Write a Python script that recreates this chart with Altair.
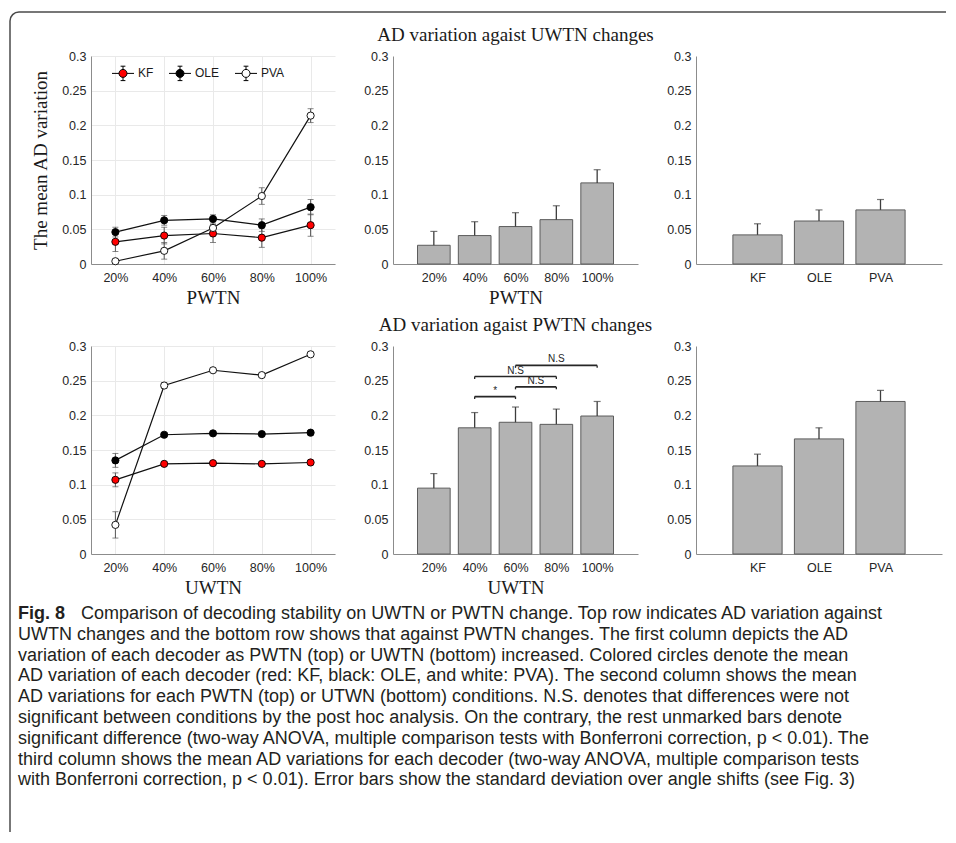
import json
import altair as alt
import pandas as pd

# ---------------- data ----------------
LEVELS = ["20%", "40%", "60%", "80%", "100%"]
DECODERS = ["KF", "OLE", "PVA"]
DEC_FILL = ["#ff0000", "#000000", "#ffffff"]
Y_TICKS = [0, 0.05, 0.1, 0.15, 0.2, 0.25, 0.3]

# Row 1 : AD variation against UWTN changes (x = PWTN)
r1_kf_mean = [0.032, 0.041, 0.044, 0.038, 0.056]
r1_kf_sd = [0.014, 0.012, 0.013, 0.014, 0.016]
r1_ole_mean = [0.046, 0.063, 0.065, 0.056, 0.082]
r1_ole_sd = [0.007, 0.007, 0.006, 0.009, 0.011]
r1_pva_mean = [0.004, 0.019, 0.052, 0.098, 0.214]
r1_pva_sd = [0.002, 0.012, 0.011, 0.012, 0.010]
r1_level_mean = [0.027, 0.041, 0.054, 0.064, 0.117]
r1_level_sd = [0.020, 0.020, 0.020, 0.020, 0.019]
r1_dec_mean = [0.042, 0.062, 0.078]
r1_dec_sd = [0.016, 0.016, 0.015]

# Row 2 : AD variation against PWTN changes (x = UWTN)
r2_kf_mean = [0.107, 0.130, 0.131, 0.130, 0.132]
r2_kf_sd = [0.010, 0.003, 0.003, 0.003, 0.003]
r2_ole_mean = [0.135, 0.172, 0.174, 0.173, 0.175]
r2_ole_sd = [0.010, 0.003, 0.003, 0.003, 0.003]
r2_pva_mean = [0.042, 0.243, 0.265, 0.258, 0.288]
r2_pva_sd = [0.019, 0.004, 0.003, 0.003, 0.003]
r2_level_mean = [0.095, 0.182, 0.190, 0.187, 0.199]
r2_level_sd = [0.021, 0.022, 0.022, 0.022, 0.021]
r2_dec_mean = [0.127, 0.166, 0.220]
r2_dec_sd = [0.017, 0.016, 0.016]

# significance brackets (row 2, middle)
sig_from = ["40%", "60%", "40%", "60%"]
sig_to = ["60%", "80%", "80%", "100%"]
sig_height = [0.227, 0.241, 0.256, 0.272]
sig_label = ["*", "N.S", "N.S", "N.S"]

TITLE_1 = "AD variation agaist UWTN changes"
TITLE_2 = "AD variation agaist PWTN changes"
Y_TITLE = "The mean AD variation"

CAP_LABEL = "Fig. 8"
CAP_LINES = [
    "Comparison of decoding stability on UWTN or PWTN change. Top row indicates AD variation against",
    "UWTN changes and the bottom row shows that against PWTN changes. The first column depicts the AD",
    "variation of each decoder as PWTN (top) or UWTN (bottom) increased. Colored circles denote the mean",
    "AD variation of each decoder (red: KF, black: OLE, and white: PVA). The second column shows the mean",
    "AD variations for each PWTN (top) or UTWN (bottom) conditions. N.S. denotes that differences were not",
    "significant between conditions by the post hoc analysis. On the contrary, the rest unmarked bars denote",
    "significant difference (two-way ANOVA, multiple comparison tests with Bonferroni correction, p < 0.01). The",
    "third column shows the mean AD variations for each decoder (two-way ANOVA, multiple comparison tests",
    "with Bonferroni correction, p < 0.01). Error bars show the standard deviation over angle shifts (see Fig. 3)",
]

# ---------------- style ----------------
SERIF = "Liberation Serif"
SANS = "Liberation Sans"
CAP_FONT = "Liberation Sans"
YS = alt.Scale(domain=[0, 0.3], nice=False, zero=True)
LEG_PATH = ("M-2.75,0H-1M1,0H2.75M-1,0A1,1,0,1,1,1,0A1,1,0,1,1,-1,0"
            "M0,-1V-1.8M-0.6,-1.8H0.6M0,1V1.8M-0.6,1.8H0.6")
one_df = pd.DataFrame({"k": [0]})


def yaxis(title=None, grid=False):
    return alt.Axis(values=Y_TICKS, format="~g", title=title, grid=grid)


def line_df(means, sds):
    rows = []
    for d, ms, ss in zip(DECODERS, means, sds):
        for lv, m, s in zip(LEVELS, ms, ss):
            rows.append({"level": lv, "decoder": d, "mean": m, "sd": s})
    return pd.DataFrame(rows)


def line_panel(df, xtitle, ytitle=None, legend=False):
    base = alt.Chart(df).transform_calculate(
        lo="datum.mean - datum.sd", hi="datum.mean + datum.sd")
    xax = alt.Axis(title=xtitle, grid=True)
    X = alt.X("level:N", sort=LEVELS, scale=alt.Scale(type="point", padding=0.5), axis=xax)
    yax = yaxis(ytitle, grid=True)
    lines = base.mark_line(color="#111111", strokeWidth=1.2).encode(
        x=X, y=alt.Y("mean:Q", scale=YS, axis=yax), detail="decoder:N")
    err = base.mark_rule(color="#555555", strokeWidth=1).encode(
        x=X, y=alt.Y("lo:Q", scale=YS, axis=yax), y2="hi:Q")
    cap_hi = base.mark_tick(color="#555555", size=6, thickness=1).encode(
        x=X, y=alt.Y("hi:Q", scale=YS, axis=yax))
    cap_lo = base.mark_tick(color="#555555", size=6, thickness=1).encode(
        x=X, y=alt.Y("lo:Q", scale=YS, axis=yax))
    leg = None
    if legend:
        leg = alt.Legend(title=None, orient="none", legendX=26, legendY=11,
                         direction="horizontal", symbolType=LEG_PATH, symbolSize=64,
                         symbolStrokeColor="black", symbolStrokeWidth=1,
                         symbolOpacity=1, labelFont=SANS, labelFontSize=12,
                         labelColor="#1a1a1a", labelOffset=9, columnPadding=13,
                         padding=0)
    pts = base.mark_point(filled=True, size=52, stroke="black", strokeWidth=0.9,
                          opacity=1).encode(
        x=X, y=alt.Y("mean:Q", scale=YS, axis=yax),
        fill=alt.Fill("decoder:N", scale=alt.Scale(domain=DECODERS, range=DEC_FILL),
                      legend=leg))
    return [lines, err, cap_hi, cap_lo, pts]


def bar_parts(cats, means, sds, xtitle):
    n = len(cats)
    df = pd.DataFrame({"cat": cats, "pos": list(range(1, n + 1)), "mean": means, "sd": sds})
    base = alt.Chart(df).transform_calculate(
        x0="datum.pos - 0.4", x1="datum.pos + 0.4", hi="datum.mean + datum.sd")
    xs = alt.Scale(domain=[0, n + 1], nice=False, zero=False)
    xax = alt.Axis(values=list(range(1, n + 1)), title=xtitle, grid=False,
                   labelExpr=json.dumps(cats) + "[datum.value - 1]")
    yax = yaxis(None)
    bars = base.mark_bar(fill="#b3b3b3", stroke="#5c5c5c", strokeWidth=1).encode(
        x=alt.X("x0:Q", scale=xs, axis=xax), x2="x1:Q",
        y=alt.Y("mean:Q", scale=YS, axis=yax), y2=alt.datum(0))
    err = base.mark_rule(color="#3d3d3d", strokeWidth=1.3).encode(
        x=alt.X("pos:Q", scale=xs, axis=xax),
        y=alt.Y("mean:Q", scale=YS, axis=yax), y2="hi:Q")
    cap = base.mark_tick(color="#3d3d3d", size=7, thickness=1.2, orient="horizontal").encode(
        x=alt.X("pos:Q", scale=xs, axis=xax), y=alt.Y("hi:Q", scale=YS, axis=yax))
    return [bars, err, cap], xs, xax, yax


def row_title(text, width):
    return alt.Chart(one_df).mark_text(
        font=SERIF, fontSize=19, color="#1a1a1a", align="center", baseline="middle"
    ).encode(x=alt.value(width / 2), y=alt.value(-21), text=alt.value(text))


W1, W2, W3, H = 244, 245, 246, 208

# ---------------- row 1 ----------------
frame_col = "#4a4a4a"
frame_left = alt.Chart(one_df).mark_rule(color=frame_col, strokeWidth=1.5).encode(
    x=alt.value(-81), y=alt.value(-35), y2=alt.value(776))
frame_top = alt.Chart(one_df).mark_rule(color=frame_col, strokeWidth=1.5).encode(
    x=alt.value(-72), x2=alt.value(855), y=alt.value(-44))
frame_arc = alt.Chart(one_df).mark_arc(
    fill=frame_col, radius=9.75, radius2=8.25, theta=4.712389, theta2=6.283185).encode(
    x=alt.value(-72), y=alt.value(-35))

p11 = alt.layer(
    *line_panel(line_df([r1_kf_mean, r1_ole_mean, r1_pva_mean],
                        [r1_kf_sd, r1_ole_sd, r1_pva_sd]), "PWTN", Y_TITLE, legend=True),
    frame_left, frame_top, frame_arc
).properties(width=W1, height=H)

b12, _, _, _ = bar_parts(LEVELS, r1_level_mean, r1_level_sd, "PWTN")
p12 = alt.layer(*b12, row_title(TITLE_1, W2)).properties(width=W2, height=H)

b13, _, _, _ = bar_parts(DECODERS, r1_dec_mean, r1_dec_sd, "")
p13 = alt.layer(*b13).properties(width=W3, height=H)

# ---------------- row 2 ----------------
cap_rows = pd.DataFrame({"row": list(range(1, len(CAP_LINES))), "text": CAP_LINES[1:]})
cap_first = pd.DataFrame({"row": [0], "text": [CAP_LINES[0]]})
cap_lab = pd.DataFrame({"row": [0], "text": [CAP_LABEL]})
CAP_Y = alt.Scale(domain=[0, len(CAP_LINES) - 1], range=[268, 434.4], nice=False, zero=False)
cap_style = dict(align="left", baseline="middle", font=CAP_FONT, fontSize=18, color="#231f20")
caption = alt.layer(
    alt.Chart(cap_lab).mark_text(fontWeight="bold", **cap_style).encode(
        x=alt.value(-73), y=alt.Y("row:Q", scale=CAP_Y, axis=None), text="text:N"),
    alt.Chart(cap_first).mark_text(**cap_style).encode(
        x=alt.value(-10), y=alt.Y("row:Q", scale=CAP_Y, axis=None), text="text:N"),
    alt.Chart(cap_rows).mark_text(**cap_style).encode(
        x=alt.value(-73), y=alt.Y("row:Q", scale=CAP_Y, axis=None), text="text:N"),
)

p21 = alt.layer(
    alt.layer(*line_panel(line_df([r2_kf_mean, r2_ole_mean, r2_pva_mean],
                                  [r2_kf_sd, r2_ole_sd, r2_pva_sd]), "UWTN")),
    caption
).resolve_scale(y="independent").properties(width=W1, height=H)

b22, xs22, xax22, yax22 = bar_parts(LEVELS, r2_level_mean, r2_level_sd, "UWTN")
sig_df = pd.DataFrame({
    "a": [LEVELS.index(v) + 1 for v in sig_from],
    "b": [LEVELS.index(v) + 1 for v in sig_to],
    "h": sig_height, "label": sig_label})
sig_base = alt.Chart(sig_df).transform_calculate(
    h2="datum.h - 0.0035", mid="(datum.a + datum.b) / 2")
sig_col = "#262626"
sig_h = sig_base.mark_rule(color=sig_col, strokeWidth=1.6).encode(
    x=alt.X("a:Q", scale=xs22, axis=xax22), x2="b:Q", y=alt.Y("h:Q", scale=YS, axis=yax22))
sig_l = sig_base.mark_rule(color=sig_col, strokeWidth=1.3).encode(
    x=alt.X("a:Q", scale=xs22, axis=xax22), y=alt.Y("h:Q", scale=YS, axis=yax22), y2="h2:Q")
sig_r = sig_base.mark_rule(color=sig_col, strokeWidth=1.3).encode(
    x=alt.X("b:Q", scale=xs22, axis=xax22), y=alt.Y("h:Q", scale=YS, axis=yax22), y2="h2:Q")
sig_t = sig_base.mark_text(font=SANS, fontSize=10, baseline="bottom", dy=-1, color="#262626").encode(
    x=alt.X("mid:Q", scale=xs22, axis=xax22), y=alt.Y("h:Q", scale=YS, axis=yax22), text="label:N")
p22 = alt.layer(*b22, sig_h, sig_l, sig_r, sig_t, row_title(TITLE_2, W2)).properties(
    width=W2, height=H)

b23, _, _, _ = bar_parts(DECODERS, r2_dec_mean, r2_dec_sd, "")
p23 = alt.layer(*b23).properties(width=W3, height=H)

chart = alt.concat(
    p11, p12, p13, p21, p22, p23,
    columns=3, bounds="flush", spacing={"row": 82, "column": 58},
).properties(
    padding={"left": 1, "top": 3, "right": 0, "bottom": 0},
    background="white",
).configure_view(stroke=None).configure_axis(
    labelFont=SANS, labelFontSize=12.5, labelColor="#262626",
    titleFont=SERIF, titleFontSize=19, titleFontWeight="normal", titleColor="#1a1a1a",
    domainColor="#8c8c8c", domainWidth=1, ticks=False, gridColor="#e9e9e9", gridWidth=1,
).configure_axisX(
    labelAngle=0, labelPadding=7, titlePadding=5,
).configure_axisY(
    labelPadding=5, titlePadding=11,
)

chart.save("out.html", embed_options={"renderer": "svg", "actions": False})
